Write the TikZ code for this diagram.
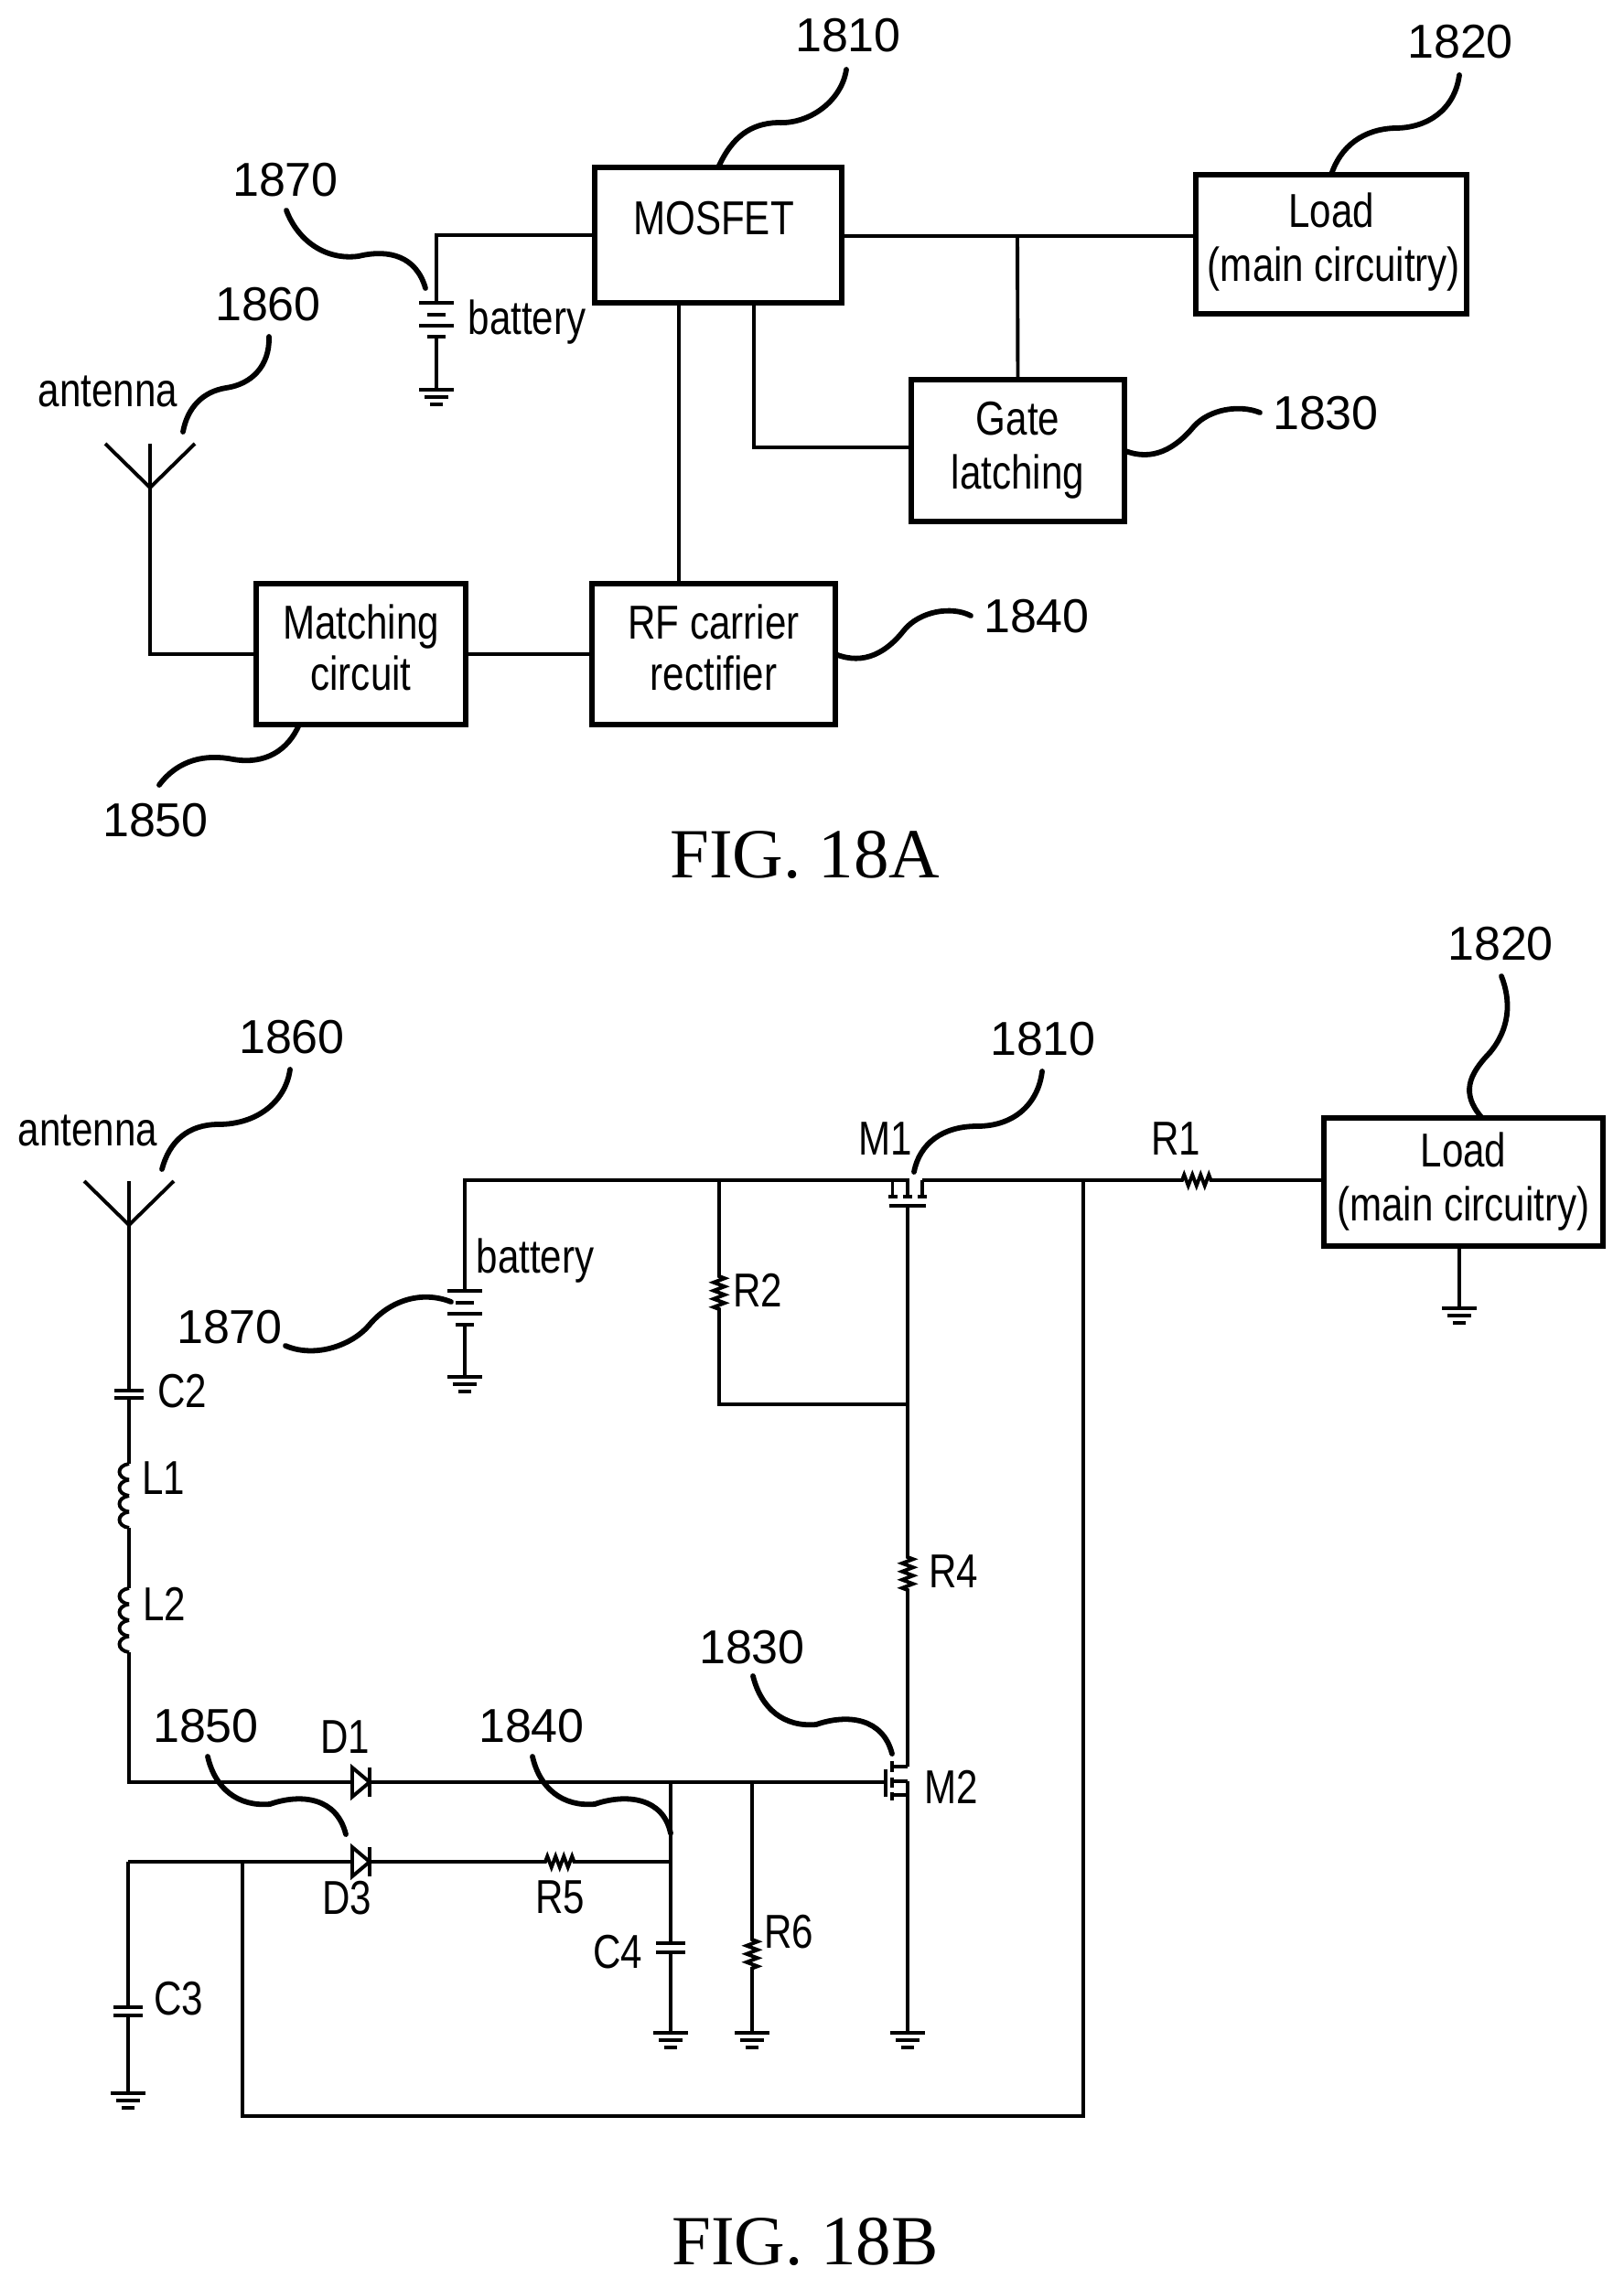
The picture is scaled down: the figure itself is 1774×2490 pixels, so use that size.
\documentclass[tikz,border=0pt]{standalone}
\usepackage{fontspec}
\usetikzlibrary{decorations.pathmorphing}
\setmainfont{Liberation Sans}
\newfontfamily\narrowsans[FakeStretch=0.81]{Liberation Sans}
\newfontfamily\figserif{Liberation Serif}
\tikzset{
    wire/.style={line width=1.95pt},
    plate/.style={line width=2pt},
    leader/.style={line width=2.9pt, line cap=round},
    blockbox/.style={draw, line width=2.6pt, inner sep=0pt, outer sep=0pt, align=center,
        font=\narrowsans\fontsize{26}{29.5}\selectfont},
    tag/.style={inner sep=0pt, font=\fontsize{26}{30}\selectfont},
    lbl/.style={inner sep=0pt, font=\narrowsans\fontsize{26}{30}\selectfont},
    figcap/.style={inner sep=0pt, font=\figserif\fontsize{38.5}{42}\selectfont},
    resistor/.style={decoration={zigzag, segment length=4.5pt, amplitude=3pt}}
}
\begin{document}
\begin{tikzpicture}[x=0.5pt, y=-0.5pt]
    \useasboundingbox (0,0) rectangle (1774,2490);

    %blocos da 18A
    \node[blockbox, minimum width=135pt, minimum height=74pt] (mosfet) at (785,257) {\raisebox{19pt}{MOSFET}\kern5pt};
    \node[blockbox, minimum width=148pt, minimum height=76pt] (loada) at (1455,267) {Load\\\kern3pt(main circuitry)\rule[-7.5pt]{0pt}{7.5pt}};
    \node[blockbox, minimum width=116.5pt, minimum height=77.5pt] (gate) at (1112.5,492.5) {Gate\\latching};
    \node[blockbox, minimum width=114.5pt, minimum height=77pt] (match) at (394.5,715) {Matching\\[-1.5pt]circuit\rule[-7pt]{0pt}{7pt}};
    \node[blockbox, minimum width=133pt, minimum height=77pt] (rf) at (780,715) {RF carrier\\[-1.5pt]rectifier\rule[-7pt]{0pt}{7pt}};
    %bloco da 18B
    \node[blockbox, minimum width=152.5pt, minimum height=70pt] (loadb) at (1599.5,1292) {Load\\(main circuitry)};

    %numeros
    \foreach \tname/\tx/\ty/\ttxt in {
        ta1810/927/39/1810, ta1820/1596/46/1820, ta1830/1449/452/1830, ta1840/1133/674/1840,
        ta1850/170/897/1850, ta1860/293/333/1860, ta1870/312/197/1870,
        tb1810/1140/1136/1810, tb1820/1640/1032/1820, tb1830/822/1801/1830, tb1840/581/1887/1840,
        tb1850/225/1887/1850, tb1860/319/1134/1860, tb1870/251/1451/1870
    } {
        \node[tag] (\tname) at (\tx,\ty) {\ttxt};
    }

    %nomes
    \foreach \lname/\lx/\ly/\ltxt in {
        lanta/118/428/antenna, lbata/576/352/battery,
        lantb/96/1236/antenna, lbatb/585/1378/battery,
        lm1/968/1245/M1, lm2/1040/1953/M2, lr1/1285/1245/R1, lr2/828/1410/R2, lr4/1042/1718/R4,
        lr5/612/2074/R5, lr6/862/2112/R6, lc2/199/1521/C2, lc3/195/2185/C3, lc4/675/2134/C4,
        ll1/179/1616/L1, ll2/180/1753/L2, ld1/377/1899/D1, ld3/379/2075/D3
    } {
        \node[lbl] (\lname) at (\lx,\ly) {\ltxt};
    }

    \node[figcap] (figa) at (880,934) {FIG. 18A};
    \node[figcap] (figb) at (880,2450) {FIG. 18B};

    %terras
    \foreach \gname/\gx/\gy in {
        gnda/477/426, gndb/508/1505, gndl/1595/1430, gndc4/733/2222, gndr6/822/2222, gndm2/992/2222, gndc3/140/2288
    } {
        \coordinate (\gname) at (\gx,\gy);
        \draw[plate] (\gx-19,\gy) -- (\gx+19,\gy);
        \draw[plate] (\gx-13,\gy+8) -- (\gx+13,\gy+8);
        \draw[plate] (\gx-7,\gy+16) -- (\gx+7,\gy+16);
    }

    %baterias
    \foreach \bname/\bx/\by in {bata/477/331, batb/508/1411} {
        \coordinate (\bname) at (\bx,\by);
        \coordinate (\bname low) at (\bx,\by+37);
        \draw[plate] (\bx-19,\by) -- (\bx+19,\by);
        \draw[plate] (\bx-10,\by+13) -- (\bx+10,\by+13);
        \draw[plate] (\bx-19,\by+25) -- (\bx+19,\by+25);
        \draw[plate] (\bx-10,\by+37) -- (\bx+10,\by+37);
    }

    %antenas
    \foreach \aname/\ax/\ay in {anta/164/533, antb/141/1339} {
        \coordinate (\aname) at (\ax,\ay);
        \draw[wire] (\ax-49,\ay-48) -- (\ax,\ay) -- (\ax+49,\ay-48);
        \draw[wire] (\ax,\ay-48) -- (\ax,\ay);
    }

    %ligacoes 18A
    \coordinate (tapload) at (1112,258);
    \coordinate (taprf) at (742,331);
    \coordinate (tapgate) at (824,331);
    \draw[wire] (mosfet.east |- tapload) -- (loada.west |- tapload);
    \draw[wire] (tapload) -- (gate.north);
    \draw[wire] (mosfet.west) -| (bata);
    \draw[wire] (batalow) -- (gnda);
    \draw[wire] (taprf) -- (taprf |- rf.north);
    \draw[wire] (tapgate) |- ([yshift=1.75pt]gate.west);
    \draw[wire] (anta) |- (match.west);
    \draw[wire] (match.east) -- (rf.west);

    %capacitores
    \foreach \cname/\cx/\cy/\cd in {cc2/141/1520/8, cc3/140/2194/9, cc4/733/2124/10} {
        \coordinate (\cname a) at (\cx,\cy);
        \coordinate (\cname b) at (\cx,\cy+\cd);
        \draw[plate] (\cx-16,\cy) -- (\cx+16,\cy);
        \draw[plate] (\cx-16,\cy+\cd) -- (\cx+16,\cy+\cd);
    }

    %bobinas
    \foreach \cy in {1600, 1617.5, 1635, 1652.5, 1736, 1753.5, 1771, 1788.5} {
        \draw[wire] (141,\cy) .. controls (127,\cy+2) and (127,\cy+15.5) .. (141,\cy+17.5);
    }

    %transistor M1
    \coordinate (m1l) at (975.5,1290);
    \coordinate (m1m) at (992,1290);
    \coordinate (m1r) at (1008,1290);
    \coordinate (m1g) at (992,1318);
    \draw[wire] (m1l) -- +(0,18);
    \draw[wire] (m1m) -- +(0,18);
    \draw[wire] (m1r) -- +(0,18);
    \foreach \mx in {976, 992, 1008} {
        \draw[plate] (\mx-5,1308) -- (\mx+5,1308);
    }
    \draw[plate] (972,1318) -- (1012,1318);

    %transistor M2
    \coordinate (m2d) at (992,1931);
    \coordinate (m2s) at (992,1947);
    \coordinate (m2g) at (968,1948);
    \draw[wire] (975,1931) -- (m2d);
    \draw[wire] (975,1947) -- (m2s);
    \draw[wire] (975,1962) -- (992,1962);
    \draw[plate] (975,1925) -- (975,1937);
    \draw[plate] (975,1943) -- (975,1954);
    \draw[plate] (975,1959) -- (975,1968);
    \draw[plate] (m2g |- 0,1934) -- (m2g |- 0,1964);

    %ligacoes 18B
    \coordinate (rightwire) at (1184,1290);
    \coordinate (r2tap) at (786,1290);
    \coordinate (r2low) at (786,1535);
    \coordinate (gatetap) at (992,1535);
    \coordinate (c4tap) at (733,1948);
    \coordinate (r6tap) at (822,1948);
    \coordinate (d3left) at (140,2035);
    \coordinate (looptap) at (265,2035);
    \coordinate (r5right) at (733,2035);
    \draw[wire] (batb) |- (994,1290);
    \draw[wire] (1008,1290) -- (rightwire) -- (1292,1290)
        decorate[resistor] { -- (1324,1290) } -- (loadb.west |- rightwire);
    \draw[wire] (rightwire) -- (1184,2313) -- (265,2313) -- (looptap);
    \draw[wire] (batblow) -- (gndb);
    \draw[wire] (loadb.south -| gndl) -- (gndl);
    \draw[wire] (r2tap) -- (786,1395) decorate[resistor] { -- (786,1434) } -- (r2low) -- (gatetap);
    \draw[wire] (m1g) -- (992,1702) decorate[resistor] { -- (992,1739) } -- (m2d);
    \draw[wire] (m2s) -- (gndm2);
    \draw[wire] (antb) -- (cc2a);
    \draw[wire] (cc2b) -- (141,1600);
    \draw[wire] (141,1670) -- (141,1736);
    \draw[wire] (141,1806) -- (141,1948) -- (m2g);
    \draw[wire] (d3left) -- (596,2035) decorate[resistor] { -- (628,2035) } -- (r5right);
    \draw[wire] (d3left) -- (cc3a);
    \draw[wire] (cc3b) -- (gndc3);
    \draw[wire] (c4tap) -- (cc4a);
    \draw[wire] (cc4b) -- (gndc4);
    \draw[wire] (r6tap) -- (822,2120) decorate[resistor] { -- (822,2154) } -- (gndr6);

    %diodos
    \foreach \dname/\dy in {dd1/1948, dd3/2035} {
        \coordinate (\dname) at (385,\dy);
        \filldraw[wire, fill=white] (\dname) ++(0,-16) -- (404,\dy) -- (385,\dy+16) -- cycle;
        \draw[plate] (404,\dy-16) -- (404,\dy+16);
    }

    %setas 18A
    \coordinate (lead1810) at (925,76);
    \coordinate (lead1820) at (1595,82);
    \coordinate (lead1830) at (1377,451);
    \coordinate (lead1840) at (1061,673);
    \coordinate (lead1850) at (174,858);
    \coordinate (lead1860) at (294,368);
    \coordinate (lead1870) at (313,230);
    \draw[leader] (mosfet.north) .. controls (800,150) and (820,135) .. (850,134) .. controls (885,136) and (920,110) .. (lead1810);
    \draw[leader] (loada.north) .. controls (1465,160) and (1490,141) .. (1525,140) .. controls (1560,140) and (1590,120) .. (lead1820);
    \draw[leader] (gate.east) .. controls (1260,505) and (1285,490) .. (1305,466) .. controls (1322,447) and (1355,442) .. (lead1830);
    \draw[leader] (rf.east) .. controls (945,728) and (970,712) .. (988,689) .. controls (1005,668) and (1040,662) .. (lead1840);
    \draw[leader] (327,792) .. controls (315,820) and (290,836) .. (255,830) .. controls (225,824) and (195,830) .. (lead1850);
    \draw[leader] (200,472) .. controls (205,445) and (222,428) .. (247,424) .. controls (275,420) and (295,400) .. (lead1860);
    \draw[leader] (lead1870) .. controls (325,262) and (355,285) .. (392,280) .. controls (425,272) and (455,280) .. (465,315);

    %setas 18B
    \coordinate (leadb1810) at (1139,1171);
    \coordinate (leadb1820) at (1641,1067);
    \coordinate (leadb1830) at (823,1832);
    \coordinate (leadb1840) at (582,1920);
    \coordinate (leadb1850) at (227,1920);
    \coordinate (leadb1860) at (317,1169);
    \coordinate (leadb1870) at (312,1471);
    \draw[leader] (leadb1810) .. controls (1135,1205) and (1110,1231) .. (1068,1231) .. controls (1030,1231) and (1005,1250) .. (999,1281);
    \draw[leader] (leadb1820) .. controls (1652,1095) and (1650,1125) .. (1628,1151) .. controls (1605,1175) and (1597,1195) .. (1619,1221);
    \draw[leader] (leadb1830) .. controls (832,1868) and (857,1888) .. (892,1885) .. controls (927,1873) and (965,1878) .. (975,1917);
    \draw[leader] (leadb1840) .. controls (590,1955) and (615,1975) .. (650,1972) .. controls (685,1960) and (725,1965) .. (733,2004);
    \draw[leader] (leadb1850) .. controls (235,1955) and (260,1975) .. (295,1972) .. controls (330,1960) and (368,1965) .. (378,2005);
    \draw[leader] (leadb1860) .. controls (312,1205) and (280,1229) .. (239,1229) .. controls (205,1229) and (185,1248) .. (177,1278);
    \draw[leader] (leadb1870) .. controls (345,1485) and (385,1470) .. (403,1449) .. controls (425,1422) and (460,1410) .. (493,1423);
\end{tikzpicture}
\end{document}
